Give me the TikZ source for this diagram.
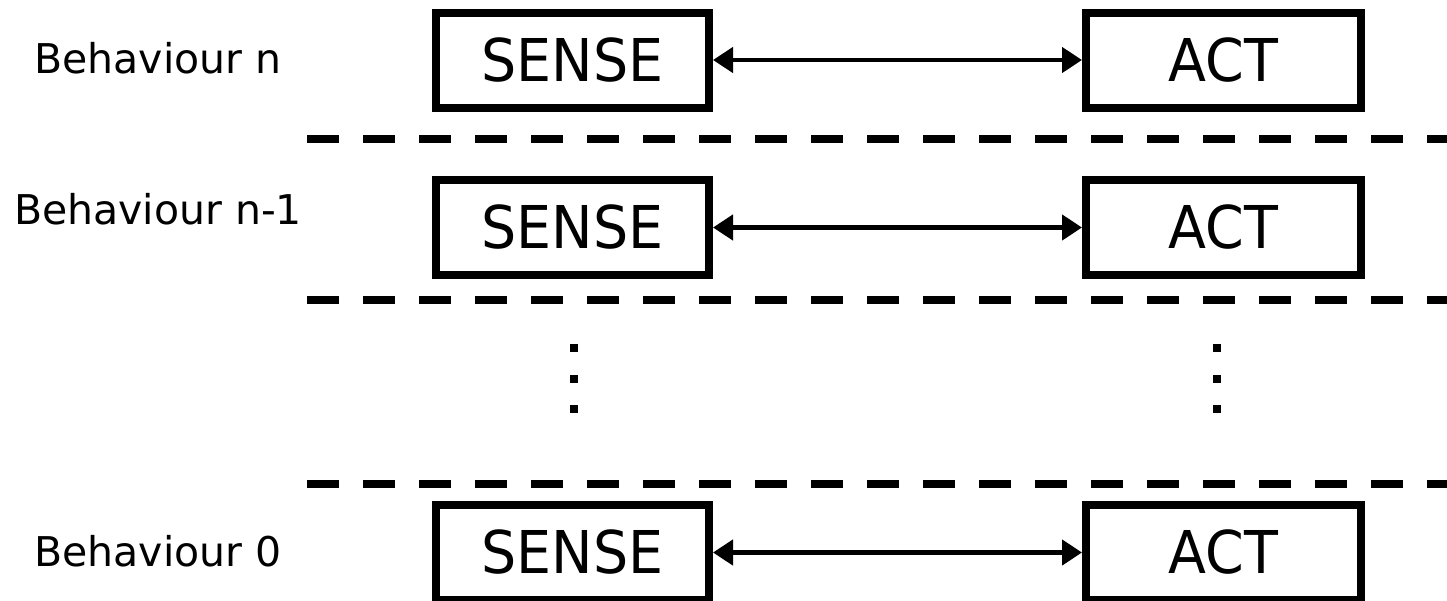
\documentclass[tikz,border=0pt]{standalone}
\usepackage{fontspec}
\setmainfont{DejaVu Sans}
\newfontfamily\boxfont[FakeStretch=0.94]{DejaVu Sans}
\usetikzlibrary{arrows.meta}
\tikzset{
  blk/.style={draw, line width=8pt, minimum height=95pt, inner sep=0pt,
    font=\boxfont\fontsize{59}{62}\selectfont},
  sensebox/.style={blk, minimum width=273pt},
  actbox/.style={blk, minimum width=275pt},
  lbl/.style={anchor=base, inner sep=0pt, font=\fontsize{41}{46}\selectfont},
  link/.style={line width=4.5pt, {Triangle[length=20pt,width=25pt]}-{Triangle[length=20pt,width=25pt]}},
  sep/.style={line width=8pt, dash pattern=on 32pt off 24pt},
  vdot/.style={fill=black, draw=none, minimum size=8pt, inner sep=0pt}
}
\begin{document}
\begin{tikzpicture}[x=1pt, y=-1pt]
\useasboundingbox (0,0) rectangle (1447,600);
% row 1
\node[lbl] (l1) at (158,73) {Behaviour n};
\node[sensebox] (s1) at (572.5,60) {SENSE};
\node[actbox] (a1) at (1223.5,60) {ACT};
\draw[link] (s1.east) -- (a1.west);
% row 2
\node[lbl] (l2) at (158,224) {Behaviour n-1};
\node[sensebox] (s2) at (572.5,227.5) {SENSE};
\node[actbox] (a2) at (1223.5,227.5) {ACT};
\draw[link] (s2.east) -- (a2.west);
% row 3
\node[lbl] (l3) at (158,566) {Behaviour 0};
\node[sensebox] (s3) at (572.5,552.5) {SENSE};
\node[actbox] (a3) at (1223.5,552.5) {ACT};
\draw[link] (s3.east) -- (a3.west);
% separators
\draw[sep] (307,139) -- (1460,139);
\draw[sep] (307,300) -- (1460,300);
\draw[sep] (307,484) -- (1460,484);
% dots
\foreach \y/\n in {348/1,378.5/2,409/3}{
  \node[vdot] (dl\n) at (574,\y) {};
  \node[vdot] (dr\n) at (1217,\y) {};
}
\end{tikzpicture}
\end{document}
